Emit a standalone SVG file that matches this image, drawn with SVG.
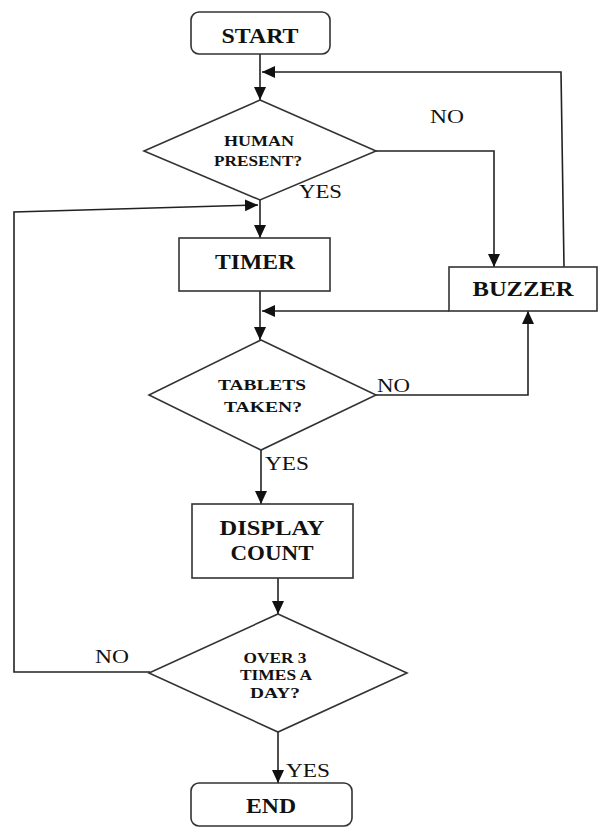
<svg xmlns="http://www.w3.org/2000/svg" width="605" height="827" viewBox="0 0 605 827">
<defs>
<marker id="ah" markerUnits="userSpaceOnUse" markerWidth="14" markerHeight="14" refX="13" refY="6" orient="auto">
<path d="M0,0 L13,6 L0,12 z" fill="#111"/>
</marker>
<style>
.shape{fill:#fff;stroke:#333;stroke-width:1.6}
.conn{fill:none;stroke:#222;stroke-width:1.6}
.bt{font-family:"Liberation Serif","Times New Roman",serif;font-weight:bold;fill:#111;text-anchor:middle}
.lb{font-family:"Liberation Serif","Times New Roman",serif;fill:#111;font-size:19px}
</style>
</defs>
<rect width="605" height="827" fill="#fff"/>
<g id="connectors">
<path class="conn" d="M260,54 L260,100" marker-end="url(#ah)"/>
<path class="conn" d="M564,267 L561,72 L262,72" marker-end="url(#ah)"/>
<path class="conn" d="M376,151 L494,151 L494,267" marker-end="url(#ah)"/>
<path class="conn" d="M260,200 L260,238" marker-end="url(#ah)"/>
<path class="conn" d="M150,672 L14,672 L14,212 L258,205" marker-end="url(#ah)"/>
<path class="conn" d="M260,291 L260,340" marker-end="url(#ah)"/>
<path class="conn" d="M449,311 L262,311" marker-end="url(#ah)"/>
<path class="conn" d="M376,395 L528,395 L528,311" marker-end="url(#ah)"/>
<path class="conn" d="M261,450 L261,504" marker-end="url(#ah)"/>
<path class="conn" d="M278,578 L278,614" marker-end="url(#ah)"/>
<path class="conn" d="M278,732 L278,783" marker-end="url(#ah)"/>
</g>
<g id="start">
<rect class="shape" x="191" y="12" width="139" height="42" rx="8"/>
<text class="bt" x="260" y="43" font-size="21" textLength="77" lengthAdjust="spacingAndGlyphs">START</text>
</g>
<g id="human">
<polygon class="shape" points="260,100 376,151 260,200 144,151"/>
<text class="bt" x="259" y="146" font-size="15" textLength="70" lengthAdjust="spacingAndGlyphs">HUMAN</text>
<text class="bt" x="258" y="166" font-size="15" textLength="88" lengthAdjust="spacingAndGlyphs">PRESENT?</text>
</g>
<g id="timer">
<rect class="shape" x="179" y="238" width="151" height="53"/>
<text class="bt" x="255" y="269" font-size="21" textLength="80" lengthAdjust="spacingAndGlyphs">TIMER</text>
</g>
<g id="buzzer">
<rect class="shape" x="449" y="267" width="148" height="44"/>
<text class="bt" x="523" y="296" font-size="20" textLength="101" lengthAdjust="spacingAndGlyphs">BUZZER</text>
</g>
<g id="tablets">
<polygon class="shape" points="261,340 376,395 261,450 149,395"/>
<text class="bt" x="262" y="390" font-size="15" textLength="88" lengthAdjust="spacingAndGlyphs">TABLETS</text>
<text class="bt" x="263" y="412" font-size="15" textLength="78" lengthAdjust="spacingAndGlyphs">TAKEN?</text>
</g>
<g id="display">
<rect class="shape" x="192" y="504" width="161" height="74"/>
<text class="bt" x="272" y="535" font-size="22" textLength="105" lengthAdjust="spacingAndGlyphs">DISPLAY</text>
<text class="bt" x="272" y="560" font-size="22" textLength="83" lengthAdjust="spacingAndGlyphs">COUNT</text>
</g>
<g id="over3">
<polygon class="shape" points="278,614 407,673 278,732 149,673"/>
<text class="bt" x="275" y="663" font-size="14" textLength="63" lengthAdjust="spacingAndGlyphs">OVER 3</text>
<text class="bt" x="276" y="680" font-size="14" textLength="72" lengthAdjust="spacingAndGlyphs">TIMES A</text>
<text class="bt" x="275" y="698" font-size="14" textLength="50" lengthAdjust="spacingAndGlyphs">DAY?</text>
</g>
<g id="end">
<rect class="shape" x="191" y="783" width="161" height="43" rx="8"/>
<text class="bt" x="271" y="813" font-size="22" textLength="50" lengthAdjust="spacingAndGlyphs">END</text>
</g>
<g id="labels">
<text class="lb" x="299" y="198" textLength="43" lengthAdjust="spacingAndGlyphs">YES</text>
<text class="lb" x="430" y="123" textLength="34" lengthAdjust="spacingAndGlyphs">NO</text>
<text class="lb" x="377" y="392" textLength="33" lengthAdjust="spacingAndGlyphs">NO</text>
<text class="lb" x="265" y="470" textLength="44" lengthAdjust="spacingAndGlyphs">YES</text>
<text class="lb" x="95" y="663" textLength="34" lengthAdjust="spacingAndGlyphs">NO</text>
<text class="lb" x="286" y="777" textLength="44" lengthAdjust="spacingAndGlyphs">YES</text>
</g>
</svg>
